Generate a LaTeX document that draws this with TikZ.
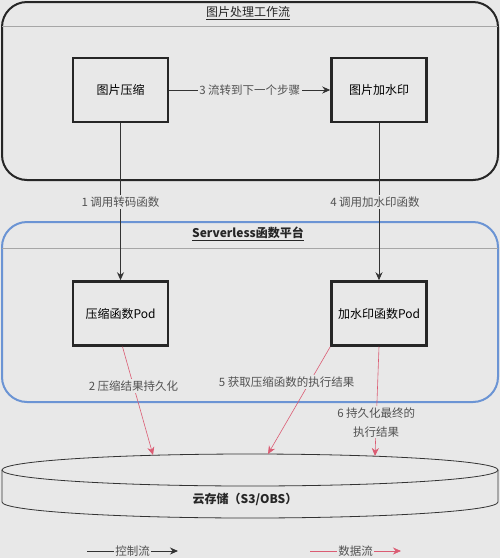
\documentclass[tikz,border=0pt]{standalone}
\usepackage{fontspec}
\setmainfont{Noto Sans CJK SC}
\usepackage{xcolor}
\definecolor{bggray}{rgb}{0.91,0.91,0.91}
\definecolor{blueframe}{rgb}{0.42,0.58,0.83}
\definecolor{datared}{rgb}{0.86,0.36,0.45}
\definecolor{labelgray}{rgb}{0.32,0.32,0.32}
\usepackage{tikz}
\usetikzlibrary{positioning}
\usetikzlibrary{arrows.meta}
\tikzset{
  stage/.style   ={ font=\fontsize{12}{14}\selectfont, rectangle, draw=black!85, fill=bggray, line width=2.5pt,
                    inner sep=2pt, minimum width=95pt, minimum height=64pt },
  lane/.style    ={ rectangle, rounded corners=25pt, line width=2pt, minimum width=496pt },
  lanehead/.style={ draw=black!35, line width=0.6pt },
  title/.style   ={ font=\fontsize{12}{14}\selectfont, text=black!85, inner sep=1pt },
  tag/.style     ={ font=\fontsize{11.5}{19}\selectfont, text=labelgray, fill=bggray, inner sep=1.5pt },
  ctrl/.style={-{Stealth[length=8pt,width=7pt]}, draw=black!80, line width=0.9pt},
  data/.style={-{Stealth[length=8pt,width=7pt]}, draw=datared, line width=0.6pt},
  tank/.style={ draw=black!80, fill=bggray, line width=0.8pt }
}

\begin{document}
\begin{tikzpicture}[x=1pt,y=-1pt]

\fill[bggray] (0,0) rectangle (500,558);
\useasboundingbox (0,0) rectangle (500,558);

% containers
\node[lane,draw=black!85,minimum height=178pt] (flow) at (250,91) {};
\draw[lanehead] (2,26) -- (498,26);
\node[title] (flowtitle) at (248,13) {\underline{图片处理工作流}};

\node[lane,draw=blueframe,minimum height=180pt] (faas) at (250,312) {};
\draw[lanehead] (2,248) -- (498,248);
\node[title] (faastitle) at (248,234) {\textbf{\underline{Serverless函数平台}}};

% steps and pods
\node[stage] (compress) at (120.5,90) {图片压缩};
\node[stage] (watermark) [right=161pt of compress] {图片加水印};
\node[stage] (cpod) [below=157pt of compress] {压缩函数Pod};
\node[stage] (wpod) [below=157pt of watermark] {加水印函数Pod};

% storage
\fill[tank,draw=none] (2,470) -- (2,502)
  .. controls (2,510.8) and (113,518) .. (250,518)
  .. controls (387,518) and (498,510.8) .. (498,502) -- (498,470) -- cycle;
\draw[tank,fill=none] (2,470) -- (2,502)
  .. controls (2,510.8) and (113,518) .. (250,518)
  .. controls (387,518) and (498,510.8) .. (498,502) -- (498,470);
\draw[tank] (250,470) ellipse [x radius=248, y radius=16];
\node[title,font=\fontsize{12}{14}\selectfont\bfseries] (store) at (245,499) {云存储（S3/OBS）};
\coordinate (s2) at (153,455);
\coordinate (s5) at (268,454);
\coordinate (s6) at (375,456);

% control flow
\draw[ctrl] (compress) -- node[tag] {3 流转到下一个步骤} (watermark);
\draw[ctrl] (compress) -- node[tag] {1 调用转码函数} (cpod);
\draw[ctrl] (watermark) -- node[tag,xshift=-4pt] {4 调用加水印函数} (wpod);

% data flow
\draw[data] ([xshift=2pt]cpod.south) -- node[tag,pos=0.36] {2 压缩结果持久化} (s2);
\draw[data] (wpod.south west) -- node[tag,pos=0.33,xshift=-23pt] {5 获取压缩函数的执行结果} (s5);
\draw[data] (wpod.south) -- node[tag,pos=0.69,align=center] {6 持久化最终的\\执行结果} (s6);

% legend
\coordinate (c1) at (87,551);
\coordinate (c2) at (178,551);
\coordinate (d1) at (310,551);
\coordinate (d2) at (401,551);
\draw[ctrl] (c1) -- node[tag] {控制流} (c2);
\draw[data] (d1) -- node[tag] {数据流} (d2);

\end{tikzpicture}
\end{document}
